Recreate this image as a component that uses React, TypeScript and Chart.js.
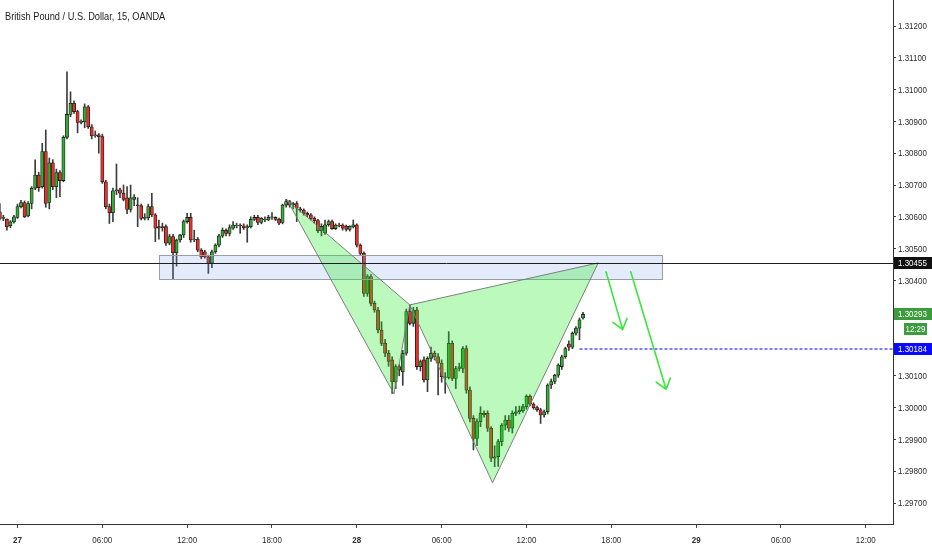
import React, { useEffect, useRef } from 'react';
import { Chart, registerables } from 'chart.js';

Chart.register(...registerables);

// ---------- data ----------
const chartTitle = 'British Pound / U.S. Dollar, 15, OANDA';
const firstBar = -5; // bar index of the first candle (bar 0 = 27 00:00, 15-minute bars)

const opens = [
  1.30616, 1.30595, 1.30592, 1.30572, 1.30584,
  1.30598, 1.30632, 1.30645, 1.30603, 1.30642, 1.30690, 1.30731, 1.30695, 1.30805, 1.30645,
  1.30770, 1.30695, 1.30739, 1.30714, 1.30850, 1.30922, 1.30957, 1.30931, 1.30897, 1.30899,
  1.30946, 1.30883, 1.30854, 1.30858, 1.30852, 1.30710, 1.30632, 1.30613, 1.30682, 1.30685,
  1.30674, 1.30660, 1.30623, 1.30655, 1.30638, 1.30635, 1.30595, 1.30597, 1.30632, 1.30606,
  1.30564, 1.30569, 1.30569, 1.30517, 1.30538, 1.30487, 1.30527, 1.30543, 1.30585, 1.30598,
  1.30527, 1.30530, 1.30495, 1.30490, 1.30474, 1.30454, 1.30490, 1.30511, 1.30540, 1.30558,
  1.30548, 1.30564, 1.30572, 1.30573, 1.30572, 1.30566, 1.30569, 1.30592, 1.30598, 1.30582,
  1.30592, 1.30590, 1.30598, 1.30598, 1.30592, 1.30582, 1.30637, 1.30648, 1.30637, 1.30642,
  1.30625, 1.30621, 1.30611, 1.30606, 1.30595, 1.30588, 1.30556, 1.30550, 1.30575, 1.30585,
  1.30563, 1.30574, 1.30574, 1.30570, 1.30560, 1.30568, 1.30575, 1.30511, 1.30485, 1.30359,
  1.30412, 1.30328, 1.30307, 1.30244, 1.30202, 1.30171, 1.30150, 1.30081, 1.30129, 1.30113,
  1.30171, 1.30302, 1.30265, 1.30307, 1.30129, 1.30150, 1.30087, 1.30155, 1.30171, 1.30160,
  1.30140, 1.30097, 1.30095, 1.30202, 1.30092, 1.30123, 1.30123, 1.30186, 1.30055, 1.29966,
  1.29903, 1.29956, 1.29982, 1.29982, 1.29935, 1.29841, 1.29846, 1.29893, 1.29945, 1.29961,
  1.29935, 1.29982, 1.29987, 1.29990, 1.30003, 1.30036, 1.30011, 1.30000, 1.29993, 1.29977,
  1.29987, 1.30071, 1.30082, 1.30102, 1.30129, 1.30160, 1.30200, 1.30190, 1.30234, 1.30250,
  1.30282,
];
const highs = [
  1.30642, 1.30605, 1.30594, 1.30588, 1.30605,
  1.30640, 1.30652, 1.30650, 1.30648, 1.30695, 1.30779, 1.30740, 1.30831, 1.30873, 1.30785,
  1.30780, 1.30750, 1.30745, 1.30855, 1.31056, 1.30993, 1.30965, 1.30935, 1.30905, 1.30955,
  1.30950, 1.30890, 1.30870, 1.30862, 1.30860, 1.30715, 1.30640, 1.30690, 1.30766, 1.30690,
  1.30700, 1.30695, 1.30700, 1.30670, 1.30660, 1.30640, 1.30610, 1.30640, 1.30674, 1.30610,
  1.30590, 1.30580, 1.30575, 1.30545, 1.30545, 1.30530, 1.30545, 1.30590, 1.30611, 1.30611,
  1.30558, 1.30535, 1.30500, 1.30495, 1.30480, 1.30495, 1.30515, 1.30545, 1.30565, 1.30562,
  1.30575, 1.30585, 1.30580, 1.30578, 1.30578, 1.30575, 1.30600, 1.30605, 1.30605, 1.30598,
  1.30600, 1.30605, 1.30613, 1.30600, 1.30596, 1.30640, 1.30655, 1.30652, 1.30645, 1.30648,
  1.30630, 1.30625, 1.30615, 1.30610, 1.30600, 1.30592, 1.30578, 1.30590, 1.30590, 1.30590,
  1.30578, 1.30580, 1.30578, 1.30574, 1.30572, 1.30590, 1.30578, 1.30515, 1.30490, 1.30418,
  1.30418, 1.30335, 1.30315, 1.30270, 1.30215, 1.30180, 1.30160, 1.30135, 1.30135, 1.30180,
  1.30310, 1.30323, 1.30315, 1.30315, 1.30150, 1.30160, 1.30160, 1.30190, 1.30178, 1.30170,
  1.30150, 1.30110, 1.30239, 1.30210, 1.30130, 1.30140, 1.30192, 1.30195, 1.30065, 1.29975,
  1.29965, 1.30003, 1.29990, 1.29990, 1.29940, 1.29880, 1.29900, 1.29950, 1.29975, 1.29975,
  1.29990, 1.30003, 1.30005, 1.30010, 1.30040, 1.30040, 1.30015, 1.30005, 1.29998, 1.29992,
  1.30075, 1.30090, 1.30105, 1.30138, 1.30165, 1.30190, 1.30210, 1.30238, 1.30255, 1.30282,
  1.30300,
];
const lows = [
  1.30590, 1.30588, 1.30558, 1.30566, 1.30580,
  1.30595, 1.30628, 1.30598, 1.30600, 1.30625, 1.30685, 1.30680, 1.30690, 1.30630, 1.30625,
  1.30685, 1.30660, 1.30663, 1.30710, 1.30845, 1.30915, 1.30925, 1.30864, 1.30892, 1.30880,
  1.30878, 1.30845, 1.30850, 1.30800, 1.30705, 1.30625, 1.30579, 1.30585, 1.30670, 1.30660,
  1.30650, 1.30610, 1.30615, 1.30635, 1.30569, 1.30590, 1.30590, 1.30590, 1.30600, 1.30522,
  1.30530, 1.30555, 1.30510, 1.30512, 1.30404, 1.30445, 1.30520, 1.30535, 1.30580, 1.30520,
  1.30522, 1.30490, 1.30468, 1.30470, 1.30422, 1.30440, 1.30485, 1.30505, 1.30535, 1.30540,
  1.30540, 1.30560, 1.30565, 1.30548, 1.30560, 1.30520, 1.30565, 1.30588, 1.30575, 1.30578,
  1.30585, 1.30588, 1.30592, 1.30588, 1.30575, 1.30578, 1.30630, 1.30630, 1.30625, 1.30585,
  1.30615, 1.30605, 1.30600, 1.30590, 1.30580, 1.30550, 1.30540, 1.30545, 1.30570, 1.30560,
  1.30560, 1.30568, 1.30558, 1.30555, 1.30555, 1.30565, 1.30505, 1.30480, 1.30350, 1.30350,
  1.30320, 1.30300, 1.30235, 1.30195, 1.30160, 1.30130, 1.30045, 1.30060, 1.30100, 1.30070,
  1.30165, 1.30260, 1.30255, 1.30120, 1.30115, 1.30080, 1.30050, 1.30145, 1.30150, 1.30040,
  1.30080, 1.30045, 1.30090, 1.30085, 1.30060, 1.30115, 1.30110, 1.30045, 1.29955, 1.29867,
  1.29880, 1.29940, 1.29970, 1.29925, 1.29830, 1.29814, 1.29815, 1.29880, 1.29930, 1.29925,
  1.29920, 1.29975, 1.29980, 1.29985, 1.29995, 1.30005, 1.29995, 1.29988, 1.29950, 1.29970,
  1.29980, 1.30060, 1.30075, 1.30095, 1.30120, 1.30155, 1.30180, 1.30185, 1.30228, 1.30213,
  1.30278,
];
const closes = [
  1.30595, 1.30598, 1.30569, 1.30584, 1.30600,
  1.30632, 1.30645, 1.30600, 1.30642, 1.30690, 1.30731, 1.30692, 1.30805, 1.30642, 1.30770,
  1.30695, 1.30739, 1.30714, 1.30850, 1.30922, 1.30957, 1.30931, 1.30897, 1.30900, 1.30946,
  1.30883, 1.30854, 1.30858, 1.30852, 1.30710, 1.30632, 1.30613, 1.30682, 1.30685, 1.30674,
  1.30655, 1.30623, 1.30660, 1.30662, 1.30635, 1.30595, 1.30598, 1.30632, 1.30606, 1.30564,
  1.30569, 1.30566, 1.30517, 1.30538, 1.30487, 1.30527, 1.30543, 1.30585, 1.30598, 1.30527,
  1.30530, 1.30495, 1.30474, 1.30474, 1.30454, 1.30490, 1.30511, 1.30540, 1.30558, 1.30548,
  1.30566, 1.30574, 1.30574, 1.30571, 1.30566, 1.30569, 1.30592, 1.30598, 1.30582, 1.30595,
  1.30590, 1.30598, 1.30600, 1.30592, 1.30580, 1.30637, 1.30648, 1.30637, 1.30642, 1.30627,
  1.30621, 1.30611, 1.30606, 1.30595, 1.30588, 1.30556, 1.30570, 1.30575, 1.30585, 1.30563,
  1.30574, 1.30571, 1.30564, 1.30560, 1.30570, 1.30575, 1.30511, 1.30485, 1.30359, 1.30412,
  1.30328, 1.30307, 1.30244, 1.30202, 1.30171, 1.30145, 1.30081, 1.30129, 1.30118, 1.30171,
  1.30302, 1.30265, 1.30307, 1.30129, 1.30145, 1.30087, 1.30155, 1.30171, 1.30160, 1.30140,
  1.30097, 1.30095, 1.30202, 1.30092, 1.30123, 1.30128, 1.30186, 1.30055, 1.29966, 1.29903,
  1.29956, 1.29982, 1.29978, 1.29935, 1.29841, 1.29845, 1.29893, 1.29945, 1.29961, 1.29935,
  1.29982, 1.29987, 1.29992, 1.30003, 1.30036, 1.30011, 1.30000, 1.29993, 1.29977, 1.29987,
  1.30071, 1.30082, 1.30102, 1.30134, 1.30160, 1.30186, 1.30190, 1.30234, 1.30250, 1.30276,
  1.30293,
];

const priceTicks = [
  1.297, 1.298, 1.299, 1.3, 1.301, 1.302, 1.303, 1.304,
  1.305, 1.306, 1.307, 1.308, 1.309, 1.31, 1.311, 1.312,
];
const timeTickBars = [0, 24, 48, 72, 96, 120, 144, 168, 192, 216, 240];
const timeTickLabels = ['27', '06:00', '12:00', '18:00', '28', '06:00', '12:00', '18:00', '29', '06:00', '12:00'];
const dayLabels = ['27', '28', '29'];

// harmonic pattern X, A, B, C, D
const patternBars = [76.3, 106.5, 111.0, 134.4, 164.3];
const patternPrices = [1.30653, 1.30043, 1.30323, 1.29764, 1.30455];
// resistance zone
const zoneBars = [40.1, 182.4];
const zonePrices = [1.30404, 1.30479];
const keyLevel = 1.30455;
const targetLevel = 1.30184;
const targetStartBar = 159;
const lastPrice = 1.30293;
const countdownText = '12:29';
// arrows
const arrowStartBars = [166.5, 173.5];
const arrowEndBars = [171.2, 183.5];
const arrowStartPrices = [1.30427, 1.30427];
const arrowEndPrices = [1.30246, 1.30058];

// ---------- view ----------
const X_MIN = -4.95;
const X_MAX = 247.7;
const Y_MIN = 1.29634;
const Y_MAX = 1.312818;
const FONT = "'Liberation Sans', Arial, sans-serif";
const SQUEEZE = 0.84; // the reference uses a narrow face
const UP = '#34ad34';
const DOWN = '#ee2f28';

function condensedText(
  ctx: CanvasRenderingContext2D,
  text: string,
  x: number,
  y: number,
  font: string,
  color: string,
  align: CanvasTextAlign,
  baseline: CanvasTextBaseline = 'middle'
) {
  ctx.save();
  ctx.translate(x, y);
  ctx.scale(SQUEEZE, 1);
  ctx.font = font;
  ctx.fillStyle = color;
  ctx.textAlign = align;
  ctx.textBaseline = baseline;
  ctx.fillText(text, 0, 0);
  ctx.restore();
}

const overlayPlugin = {
  id: 'overlay',
  afterDatasetsDraw(chart: any) {
    const { ctx, chartArea: a, scales } = chart;
    const xs = scales.x;
    const ys = scales.y;
    ctx.save();
    ctx.beginPath();
    ctx.rect(a.left, a.top, a.right - a.left, a.bottom - a.top);
    ctx.clip();

    // zone
    const zx0 = xs.getPixelForValue(zoneBars[0]);
    const zx1 = xs.getPixelForValue(zoneBars[1]);
    const zy0 = ys.getPixelForValue(zonePrices[1]);
    const zy1 = ys.getPixelForValue(zonePrices[0]);
    ctx.fillStyle = 'rgba(105,145,225,0.18)';
    ctx.fillRect(zx0, zy0, zx1 - zx0, zy1 - zy0);
    ctx.strokeStyle = '#9a9ea8';
    ctx.lineWidth = 1;
    ctx.strokeRect(Math.round(zx0) + 0.5, Math.round(zy0) + 0.5, Math.round(zx1 - zx0), Math.round(zy1 - zy0));

    // triangles XAB and BCD
    const tris = [[0, 1, 2], [2, 3, 4]];
    tris.forEach((t) => {
      ctx.beginPath();
      t.forEach((k, j) => {
        const px = xs.getPixelForValue(patternBars[k]);
        const py = ys.getPixelForValue(patternPrices[k]);
        if (j === 0) ctx.moveTo(px, py);
        else ctx.lineTo(px, py);
      });
      ctx.closePath();
      ctx.fillStyle = 'rgba(25,235,25,0.29)';
      ctx.fill();
      ctx.strokeStyle = 'rgba(120,120,120,0.95)';
      ctx.lineWidth = 1;
      ctx.stroke();
    });

    // key level line
    const ky = Math.round(ys.getPixelForValue(keyLevel)) + 0.5;
    ctx.strokeStyle = '#1f1f1f';
    ctx.lineWidth = 1;
    ctx.beginPath();
    ctx.moveTo(a.left, ky);
    ctx.lineTo(a.right, ky);
    ctx.stroke();

    // target dotted line
    const ty = Math.round(ys.getPixelForValue(targetLevel));
    ctx.strokeStyle = '#7d7dff';
    ctx.lineWidth = 2;
    ctx.setLineDash([3, 2]);
    ctx.beginPath();
    ctx.moveTo(xs.getPixelForValue(targetStartBar), ty);
    ctx.lineTo(a.right, ty);
    ctx.stroke();
    ctx.setLineDash([]);

    // arrows
    ctx.strokeStyle = '#3be63b';
    ctx.lineWidth = 1.6;
    ctx.lineCap = 'round';
    for (let k = 0; k < arrowStartBars.length; k++) {
      const x0 = xs.getPixelForValue(arrowStartBars[k]);
      const y0 = ys.getPixelForValue(arrowStartPrices[k]);
      const x1 = xs.getPixelForValue(arrowEndBars[k]);
      const y1 = ys.getPixelForValue(arrowEndPrices[k]);
      const ang = Math.atan2(y1 - y0, x1 - x0);
      const head = 12;
      const spread = (38 * Math.PI) / 180;
      ctx.beginPath();
      ctx.moveTo(x0, y0);
      ctx.lineTo(x1, y1);
      ctx.moveTo(x1 - head * Math.cos(ang - spread), y1 - head * Math.sin(ang - spread));
      ctx.lineTo(x1, y1);
      ctx.lineTo(x1 - head * Math.cos(ang + spread), y1 - head * Math.sin(ang + spread));
      ctx.stroke();
    }
    ctx.restore();
  },
  afterDraw(chart: any) {
    const { ctx, chartArea: a, scales, width } = chart;
    const xs = scales.x;
    const ys = scales.y;
    const tickFont = `9.5px ${FONT}`;
    const boxPrices = [keyLevel, lastPrice, targetLevel];
    const boxPixels = boxPrices.map((p) => ys.getPixelForValue(p));

    // price axis labels (labels hidden behind a price box are skipped, as the platform does)
    priceTicks.forEach((v) => {
      const py = ys.getPixelForValue(v);
      if (boxPixels.some((b) => Math.abs(b - py) < 11)) return;
      condensedText(ctx, v.toFixed(5), a.right + 5, py + 0.5, tickFont, '#2b2b2b', 'left');
    });
    // time axis labels
    timeTickBars.forEach((b, k) => {
      const lab = timeTickLabels[k];
      const f = dayLabels.includes(lab) ? `bold ${tickFont}` : tickFont;
      condensedText(ctx, lab, xs.getPixelForValue(b), a.bottom + 16, f, '#2b2b2b', 'center');
    });

    // price boxes
    ctx.save();
    const box = (price: number, bg: string) => {
      const cy = ys.getPixelForValue(price);
      ctx.fillStyle = bg;
      ctx.fillRect(a.right + 1, Math.round(cy) - 6, width - a.right - 1, 12);
      condensedText(ctx, price.toFixed(5), a.right + 5, Math.round(cy) + 0.5, tickFont, '#ffffff', 'left');
      return cy;
    };
    box(keyLevel, '#111111');
    const gy = box(lastPrice, '#3c9b3c');
    box(targetLevel, '#0a0aff');
    // countdown
    ctx.fillStyle = '#3c9b3c';
    ctx.fillRect(a.right + 11, Math.round(gy) + 9, 23, 12);
    condensedText(ctx, countdownText, a.right + 22.5, Math.round(gy) + 15.5, tickFont, '#ffffff', 'center');
    ctx.restore();

    // title
    condensedText(ctx, chartTitle, 5, 20, `11px ${FONT}`, '#1c1c1c', 'left', 'alphabetic');
  },
};

export default function App() {
  const canvasRef = useRef<HTMLCanvasElement | null>(null);

  useEffect(() => {
    document.body.style.margin = '0';
    const canvas = canvasRef.current;
    if (!canvas) return;
    const bars = opens.map((_, k) => firstBar + k);
    const wickData = bars.map((b, k) => ({ x: b, y: [lows[k], highs[k]] }));
    const bodyData = bars.map((b, k) => ({ x: b, y: [opens[k], closes[k]] }));
    const bodyColors = bars.map((_, k) => (closes[k] >= opens[k] ? UP : DOWN));

    const chart = new Chart(canvas, {
      type: 'bar',
      data: {
        datasets: [
          {
            label: 'body',
            data: bodyData as any,
            backgroundColor: bodyColors,
            borderColor: '#1b1b1b',
            borderWidth: 0.8,
            borderSkipped: false,
            barThickness: 3.2,
            grouped: false,
            order: 1,
          } as any,
          {
            label: 'wick',
            data: wickData as any,
            backgroundColor: '#3d3d3d',
            borderWidth: 0,
            barThickness: 1,
            grouped: false,
            order: 2,
          } as any,
        ],
      },
      plugins: [overlayPlugin],
      options: {
        animation: false,
        responsive: false,
        devicePixelRatio: 1,
        layout: { padding: 0 },
        plugins: { legend: { display: false }, tooltip: { enabled: false } },
        scales: {
          x: {
            type: 'linear',
            min: X_MIN,
            max: X_MAX,
            offset: false,
            afterBuildTicks: (scale: any) => {
              scale.ticks = timeTickBars.map((v) => ({ value: v }));
            },
            afterFit: (scale: any) => {
              scale.height = 26;
              scale.paddingLeft = 0;
              scale.paddingRight = 0;
            },
            grid: { display: true, drawOnChartArea: false, drawTicks: true, tickLength: 4, color: '#444', offset: false },
            border: { display: true, color: '#333', width: 1 },
            ticks: {
              autoSkip: false,
              maxRotation: 0,
              padding: 3,
              color: 'rgba(0,0,0,0)',
              font: { family: FONT, size: 9 },
              callback: (_v: any, i: number) => timeTickLabels[i],
            },
          },
          y: {
            type: 'linear',
            position: 'right',
            min: Y_MIN,
            max: Y_MAX,
            afterBuildTicks: (scale: any) => {
              scale.ticks = priceTicks.map((v) => ({ value: v }));
            },
            afterFit: (scale: any) => {
              scale.width = 39;
              scale.paddingTop = 0;
              scale.paddingBottom = 0;
            },
            grid: { display: true, drawOnChartArea: false, drawTicks: true, tickLength: 3, color: '#444' },
            border: { display: true, color: '#333', width: 1 },
            ticks: {
              autoSkip: false,
              padding: 3,
              color: 'rgba(0,0,0,0)',
              font: { family: FONT, size: 9 },
              callback: (v: any) => Number(v).toFixed(5),
            },
          },
        },
      } as any,
    });
    return () => chart.destroy();
  }, []);

  return (
    <div style={{ width: 932, height: 550, position: 'relative', background: '#ffffff' }}>
      <canvas ref={canvasRef} width={932} height={550} style={{ display: 'block' }} />
    </div>
  );
}
